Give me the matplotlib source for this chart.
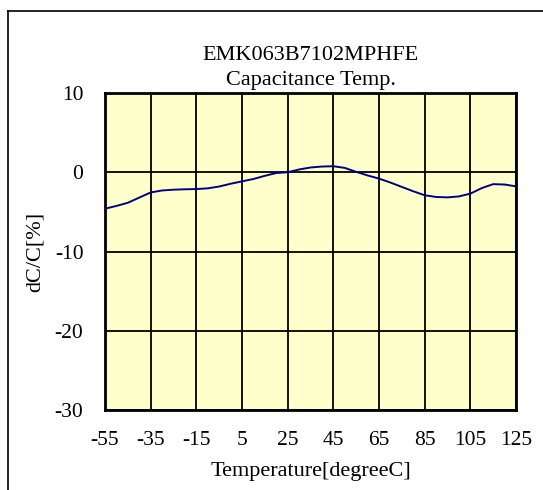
import numpy as np
import matplotlib
matplotlib.use("Agg")
import matplotlib.pyplot as plt
from matplotlib.lines import Line2D

# data
temps = [-55, -50, -45, -40, -35, -30, -25, -20, -15, -10, -5, 0, 5, 10, 15, 20, 25,
         30, 35, 40, 45, 50, 55, 60, 65, 70, 75, 80, 85, 90, 95, 100, 105, 110, 115, 120, 125]
dc = [-4.6, -4.25, -3.85, -3.2, -2.55, -2.3, -2.2, -2.15, -2.12, -2.03, -1.8, -1.45, -1.15,
      -0.85, -0.45, -0.1, 0.0, 0.35, 0.6, 0.72, 0.76, 0.55, 0.05, -0.4, -0.8, -1.3, -1.85,
      -2.4, -2.9, -3.12, -3.17, -3.05, -2.7, -2.0, -1.5, -1.55, -1.78]
xticks = [-55, -35, -15, 5, 25, 45, 65, 85, 105, 125]
yticks = [-30, -20, -10, 0, 10]

plt.rcParams['font.family'] = ['Liberation Serif', 'DejaVu Serif']
plt.rcParams['axes.unicode_minus'] = False

W, H = 543, 490
fig = plt.figure(figsize=(W / 100, H / 100), dpi=100)
ax = fig.add_axes([105 / W, 1 - 410 / H, 411 / W, 317 / H])
ax.set_facecolor('#FFFFCC')

ax.plot(temps, dc, color='#000080', lw=1.4, zorder=3)

ax.set_xlim(-55, 125)
ax.set_ylim(-30, 10)
ax.set_xticks(xticks)
ax.set_yticks(yticks)
ax.tick_params(length=0, labelsize=15.5)
ax.tick_params(axis='y', pad=15.5)
ax.tick_params(axis='x', pad=15)
ax.grid(True, color='black', lw=1.3, zorder=1)
ax.set_axisbelow(True)
for s in ax.spines.values():
    s.set_linewidth(2)

ax.set_xlabel('Temperature[degreeC]', fontsize=16, labelpad=9)
ax.set_ylabel('dC/C[%]', fontsize=16, labelpad=7)
ax.set_title('EMK063B7102MPHFE\nCapacitance Temp.', fontsize=16, pad=6, linespacing=1.4)

# outer frame (left and top edges visible, rest is cropped)
fig.add_artist(Line2D([8 / W, 8 / W], [0, 1 - 11 / H], transform=fig.transFigure, color='black', lw=1.2))
fig.add_artist(Line2D([8 / W, 1], [1 - 11 / H, 1 - 11 / H], transform=fig.transFigure, color='black', lw=1.2))

fig.savefig('out.png', dpi=100)
